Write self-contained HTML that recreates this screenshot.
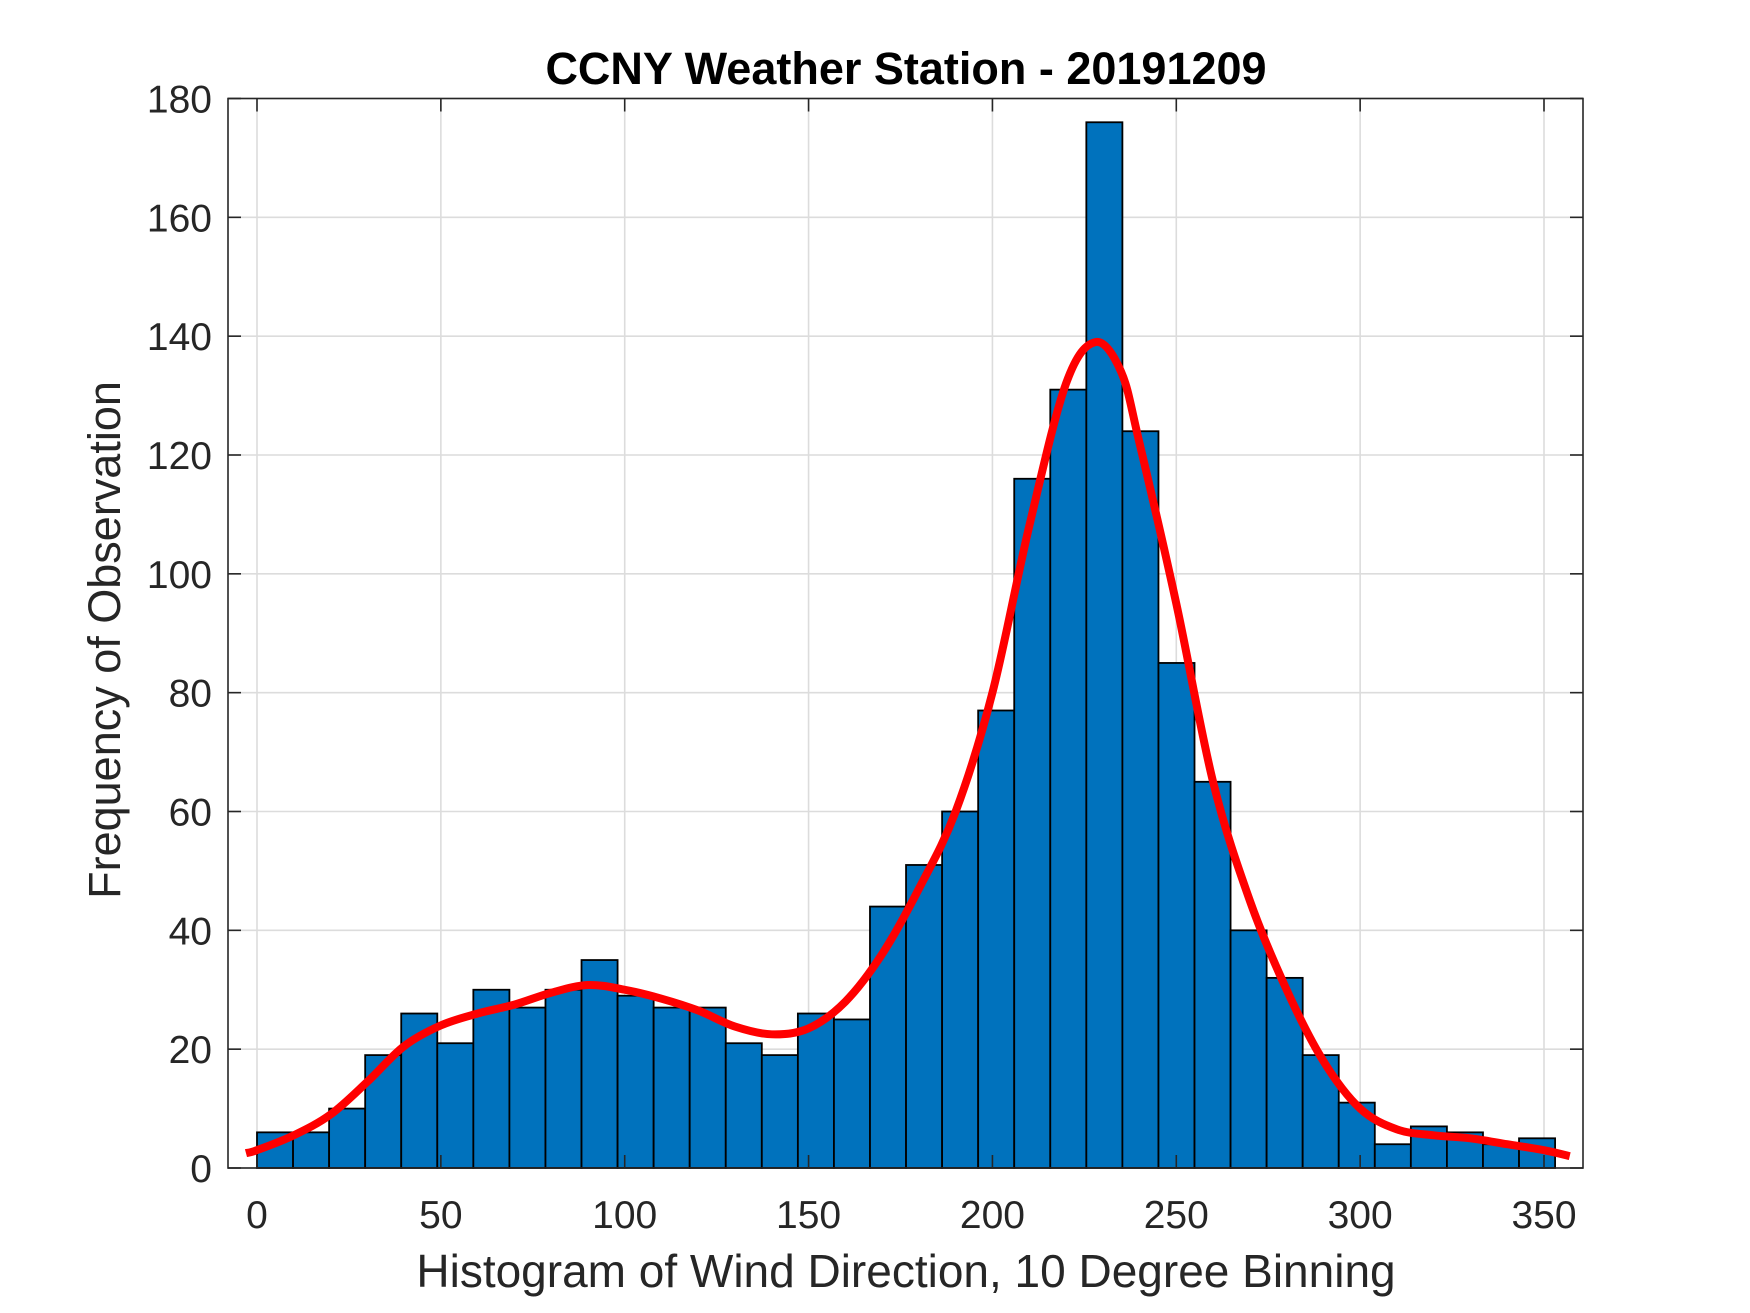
<!DOCTYPE html>
<html><head><meta charset="utf-8"><style>
html,body{margin:0;padding:0;background:#fff;}
svg{display:block;font-family:"Liberation Sans",Arial,sans-serif;}
</style></head><body>
<svg id="chart" width="1750" height="1313" viewBox="0 0 1750 1313">
<rect x="0" y="0" width="1750" height="1313" fill="#fff"/>
<g id="grid"></g>
<g id="bars"></g>
<path id="curve" fill="none" stroke="#ff0000" stroke-width="8" stroke-linejoin="round" stroke-linecap="butt"/>
<rect x="228" y="98.5" width="1355" height="1069.5" fill="none" stroke="#262626" stroke-width="1.6"/>
<g id="ticks"></g>
<text x="906" y="84" text-anchor="middle" font-size="45" font-weight="bold" fill="#000">CCNY Weather Station - 20191209</text>
<text x="906" y="1287" text-anchor="middle" font-size="46" fill="#262626">Histogram of Wind Direction, 10 Degree Binning</text>
<text transform="translate(120,640) rotate(-90)" text-anchor="middle" font-size="45" fill="#262626">Frequency of Observation</text>
</svg>
<script>
const binStarts = [0,10,20,30,40,50,60,70,80,90,100,110,120,130,140,150,160,170,180,190,200,210,220,230,240,250,260,270,280,290,300,310,320,330,340,350];
const counts = [6,6,10,19,26,21,30,27,30,35,29,27,27,21,19,26,25,44,51,60,77,116,131,176,124,85,65,40,32,19,11,4,7,6,4,5];
const binWidth = 9.806;
const fitX = [-3,0,10,20,30,40,50,60,70,80,90,100,110,120,130,140,150,160,170,180,190,200,210,220,228,235,240,250,260,270,280,290,300,310,320,330,340,350,357];
const fitY = [2.5,3,5.5,9,14.5,20.5,24,26,27.5,29.5,30.8,30,28.5,26.5,23.8,22.5,23.5,28,36,47,60,80,108,132,139,134,122,95,65,45,30,18,10,6.5,5.5,5,4,3,2];
const xTicks = [0,50,100,150,200,250,300,350];
const yTicks = [0,20,40,60,80,100,120,140,160,180];

const NS='http://www.w3.org/2000/svg';
const X0=228,X1=1583,Y0=1168,Y1=98.5;
const xs=v=>257+v*(1544-257)/350;
const ys=v=>Y0-v*(Y0-Y1)/180;
function mk(tag,attrs,parent){const e=document.createElementNS(NS,tag);for(const k in attrs)e.setAttribute(k,attrs[k]);parent.appendChild(e);return e;}
const grid=document.getElementById('grid'),ticks=document.getElementById('ticks'),bars=document.getElementById('bars');
xTicks.forEach(t=>{
  const g=mk('line',{x1:xs(t),x2:xs(t),y1:Y1,y2:Y0,stroke:'#dcdcdc','stroke-width':1.6},grid);
  
  
  mk('line',{x1:xs(t),x2:xs(t),y1:Y0,y2:Y0-13,stroke:'#262626','stroke-width':1.6},ticks);
  mk('line',{x1:xs(t),x2:xs(t),y1:Y1,y2:Y1+13,stroke:'#262626','stroke-width':1.6},ticks);
  const l=mk('text',{x:xs(t),y:1228,'text-anchor':'middle','font-size':39,fill:'#262626'},ticks);
  l.textContent=t;
  
  
});
yTicks.forEach(t=>{
  const g=mk('line',{x1:X0,x2:X1,y1:ys(t),y2:ys(t),stroke:'#dcdcdc','stroke-width':1.6},grid);
  
  
  mk('line',{x1:X0,x2:X0+13,y1:ys(t),y2:ys(t),stroke:'#262626','stroke-width':1.6},ticks);
  mk('line',{x1:X1,x2:X1-13,y1:ys(t),y2:ys(t),stroke:'#262626','stroke-width':1.6},ticks);
  const l=mk('text',{x:212,y:ys(t)+14,'text-anchor':'end','font-size':39,fill:'#262626'},ticks);
  l.textContent=t;
  
  
});
binStarts.forEach((b,i)=>{
  const x=xs(b*binWidth/10),w=xs(binWidth)-xs(0);
  const r=mk('rect',{x:x,y:ys(counts[i]),width:w,height:ys(0)-ys(counts[i]),fill:'#0072bd',stroke:'#000','stroke-width':1.8},bars);
  
  
});
const pts=fitX.map((x,i)=>[xs(x),ys(fitY[i])]);
let d='M'+pts[0][0]+','+pts[0][1];
for(let i=0;i<pts.length-1;i++){
  const p0=pts[Math.max(0,i-1)],p1=pts[i],p2=pts[i+1],p3=pts[Math.min(pts.length-1,i+2)];
  const c1=[p1[0]+(p2[0]-p0[0])/6,p1[1]+(p2[1]-p0[1])/6];
  const c2=[p2[0]-(p3[0]-p1[0])/6,p2[1]-(p3[1]-p1[1])/6];
  d+=' C'+c1[0]+','+c1[1]+' '+c2[0]+','+c2[1]+' '+p2[0]+','+p2[1];
}
document.getElementById('curve').setAttribute('d',d);
</script>
</body></html>
